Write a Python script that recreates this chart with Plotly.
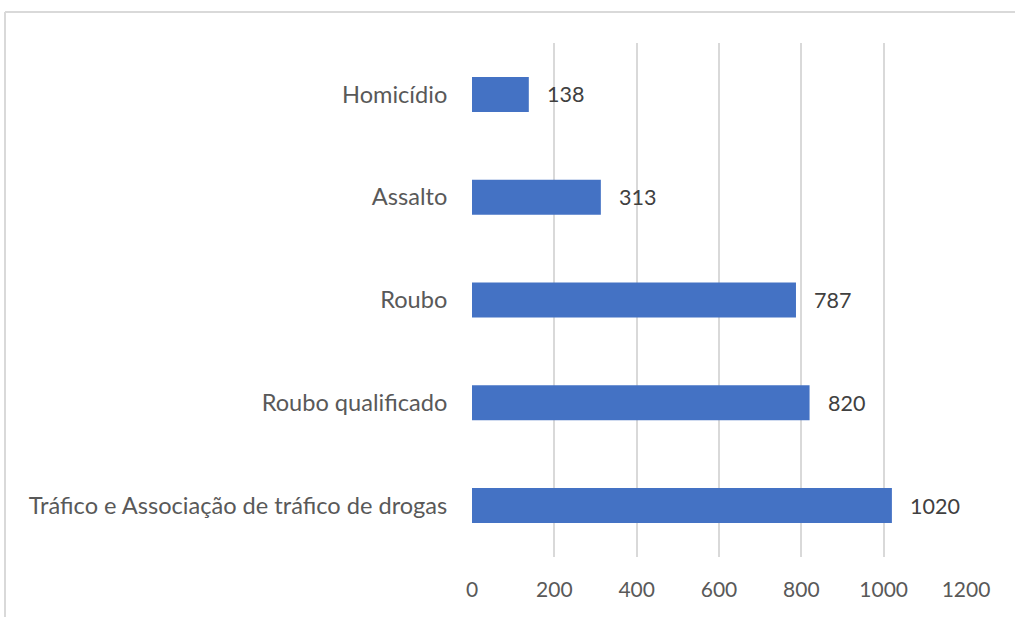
import plotly.graph_objects as go

categories = ["Tráfico e Associação de tráfico de drogas", "Roubo qualificado", "Roubo", "Assalto", "Homicídio"]
values = [1020, 820, 787, 313, 138]
x_ticks = [0, 200, 400, 600, 800, 1000, 1200]

W, H = 1015, 617
L, R, T, B = 472, 49, 43, 60
pw, ph = W - L - R, H - T - B

fig = go.Figure()
fig.add_trace(go.Bar(
    y=categories, x=values, orientation="h",
    marker=dict(color="#4472C4", line=dict(width=0)),
    hoverinfo="x+y",
))

for c, v in zip(categories, values):
    fig.add_annotation(x=v, y=c, text=str(v), showarrow=False, xanchor="left",
                       xshift=16, font=dict(family="Lato", size=21.5, color="#404040"))

# frame lines (paper coords)
fx = (5 - L) / pw
fy = 1 + (T - 12) / ph
fig.add_shape(type="line", xref="paper", yref="paper", x0=fx, x1=fx, y0=fy, y1=-0.2,
              line=dict(color="#d9d9d9", width=2))
fig.add_shape(type="line", xref="paper", yref="paper", x0=fx, x1=1.2, y0=fy, y1=fy,
              line=dict(color="#d9d9d9", width=2))

fig.update_layout(
    width=W, height=H,
    margin=dict(l=L, r=R, t=T, b=B),
    plot_bgcolor="white", paper_bgcolor="white",
    bargap=0.66,
    showlegend=False,
    xaxis=dict(range=[0, 1200], tickvals=x_ticks, showgrid=True, gridcolor="#d9d9d9",
               gridwidth=1.5, zeroline=False, showline=False,
               tickfont=dict(family="Lato", size=21, color="#595959"),
               ticks="outside", ticklen=14, tickcolor="rgba(0,0,0,0)"),
    yaxis=dict(showgrid=False, zeroline=False, showline=False,
               tickfont=dict(family="Lato", size=23.6, color="#595959"),
               ticks="outside", ticklen=19, tickcolor="rgba(0,0,0,0)"),
)

fig.write_html("out.html")
